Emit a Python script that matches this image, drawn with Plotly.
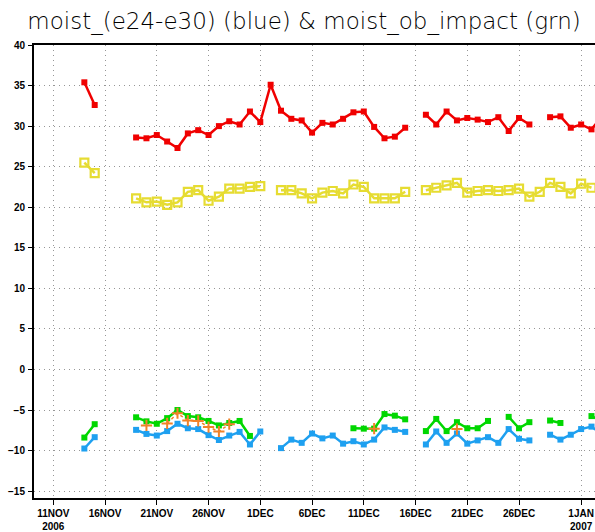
import pandas as pd
import plotly.graph_objects as go

# Daily values, 14 Nov 2006 through 3 Jan 2007 (None = no data that day)
dates = pd.date_range("2006-11-14", "2007-01-03", freq="D")

red = [35.4, 32.6, None, None, None, 28.6, 28.5, 28.9, 28.1, 27.3,
       29.1, 29.5, 28.9, 30.0, 30.6, 30.2, 31.8, 30.5, 35.1, 31.9,
       30.9, 30.7, 29.2, 30.4, 30.2, 30.9, 31.7, 31.8, 29.9, 28.5,
       28.7, 29.8, None, 31.4, 30.2, 31.8, 30.7, 31.0, 30.8, 30.5,
       31.1, 29.4, 31.0, 30.2, None, 31.1, 31.2, 29.8, 30.2, 29.6,
       31.2]

yellow = [25.5, 24.2, None, None, None, 21.1, 20.6, 20.7, 20.3, 20.6,
          21.9, 22.1, 20.8, 21.3, 22.3, 22.3, 22.5, 22.6, None, 22.1,
          22.1, 21.7, 21.1, 21.8, 22.0, 21.7, 22.8, 22.5, 21.1, 21.1,
          21.1, 21.9, None, 22.1, 22.4, 22.7, 23.0, 21.8, 22.0, 22.1,
          22.0, 22.1, 22.3, 21.3, 21.9, 23.0, 22.5, 21.7, 22.9, 22.4,
          None]

green = [-8.4, -6.75, None, None, None, -5.9, -6.4, -6.7, -6.0, -5.0,
         -5.75, -5.9, -6.35, -6.9, -6.6, -6.35, -8.2, None, None, None,
         None, None, None, None, None, None, -7.25, -7.3, -7.3, -5.5,
         -5.7, -6.15, None, -7.6, -6.1, -7.6, -6.5, -7.25, -7.25, -6.35,
         None, -5.85, -7.25, -6.5, None, -6.3, -6.6, None, None, -5.75,
         -6.4]

blue = [-9.75, -8.35, None, None, None, -7.45, -7.95, -8.15, -7.6, -6.7,
        -7.25, -7.35, -8.1, -8.7, -8.15, -7.7, -9.25, -7.65, None, -9.7,
        -8.65, -9.05, -7.9, -8.5, -8.15, -9.15, -8.85, -9.25, -8.65, -7.15,
        -7.45, -7.7, None, -9.25, -7.65, -9.05, -7.9, -9.15, -8.75, -8.35,
        -9.05, -7.35, -8.55, -8.75, None, -8.05, -8.65, -8.05, -7.35, -7.05,
        -8.0]

orange = [None, None, None, None, None, None, -6.9, None, -6.65, -5.4,
          -6.3, -6.35, -7.1, -7.65, -6.75, None, None, None, None, None,
          None, None, None, None, None, None, None, None, -7.3, None,
          None, None, None, None, None, None, -7.35, None, None, None,
          None, None, None, None, None, None, None, None, None, None,
          None]

tick_dates = ["2006-11-11", "2006-11-16", "2006-11-21", "2006-11-26",
              "2006-12-01", "2006-12-06", "2006-12-11", "2006-12-16",
              "2006-12-21", "2006-12-26", "2007-01-01"]
tick_text = ["11NOV<br>2006", "16NOV", "21NOV", "26NOV", "1DEC", "6DEC",
             "11DEC", "16DEC", "21DEC", "26DEC", "1JAN<br>2007"]
y_ticks = [-15, -10, -5, 0, 5, 10, 15, 20, 25, 30, 35, 40]

title = "moist_(e24-e30) (blue) & moist_ob_impact (grn)"

C_RED = "rgb(240,0,0)"
C_YEL = "rgb(230,220,50)"
C_GRN = "rgb(0,215,0)"
C_BLU = "rgb(30,160,240)"
C_ORG = "rgb(240,130,40)"

fig = go.Figure()

fig.add_trace(go.Scatter(
    x=dates, y=yellow, mode="lines+markers",
    line=dict(color=C_YEL, width=2.5),
    marker=dict(symbol="square-open", size=8, color=C_YEL,
                line=dict(width=2.2, color=C_YEL)),
))
fig.add_trace(go.Scatter(
    x=dates, y=red, mode="lines+markers",
    line=dict(color=C_RED, width=2.5),
    marker=dict(symbol="square", size=6, color=C_RED),
))
fig.add_trace(go.Scatter(
    x=dates, y=blue, mode="lines+markers",
    line=dict(color=C_BLU, width=2.5),
    marker=dict(symbol="square", size=6, color=C_BLU),
))
fig.add_trace(go.Scatter(
    x=dates, y=green, mode="lines+markers",
    line=dict(color=C_GRN, width=2.5),
    marker=dict(symbol="square", size=6, color=C_GRN),
))
fig.add_trace(go.Scatter(
    x=dates, y=orange, mode="lines+markers",
    line=dict(color=C_ORG, width=1.5, dash="dot"),
    marker=dict(symbol="cross-thin", size=8, color=C_ORG,
                line=dict(width=2, color=C_ORG)),
))

origin = pd.Timestamp("2006-11-11")
x_lo = origin + pd.Timedelta(days=-1.865)
x_hi = origin + pd.Timedelta(days=52.34)

tick_font = dict(family="Liberation Sans, Arial, sans-serif", size=10,
                 color="black", weight="bold")
grid_dash = "1px,4px"

fig.update_layout(
    width=595, height=532,
    margin=dict(l=34, r=0, t=45, b=22),
    paper_bgcolor="white", plot_bgcolor="white",
    showlegend=False,
    title=dict(text=title, x=0.511, xref="container", xanchor="center",
               y=1 - 21 / 532, yref="container", yanchor="middle",
               font=dict(family="DejaVu Sans, sans-serif", size=23,
                         color="black", weight=300)),
    xaxis=dict(
        type="date", range=[x_lo, x_hi],
        tickmode="array", tickvals=tick_dates, ticktext=tick_text,
        ticks="outside", ticklen=5, tickcolor="black", tickwidth=1,
        showline=True, linecolor="black", linewidth=2, mirror=True,
        showgrid=True, gridcolor="rgb(150,150,150)", gridwidth=1,
        griddash=grid_dash, zeroline=False,
        tickfont=tick_font, tickangle=0,
    ),
    yaxis=dict(
        range=[-15.85, 40], tickmode="array", tickvals=y_ticks,
        ticks="outside", ticklen=4, tickcolor="black", tickwidth=1,
        showline=True, linecolor="black", linewidth=2,
        showgrid=True, gridcolor="rgb(150,150,150)", gridwidth=1,
        griddash=grid_dash, zeroline=False,
        tickfont=tick_font, ticklabelstandoff=1,
    ),
)

fig.write_html("out.html")
